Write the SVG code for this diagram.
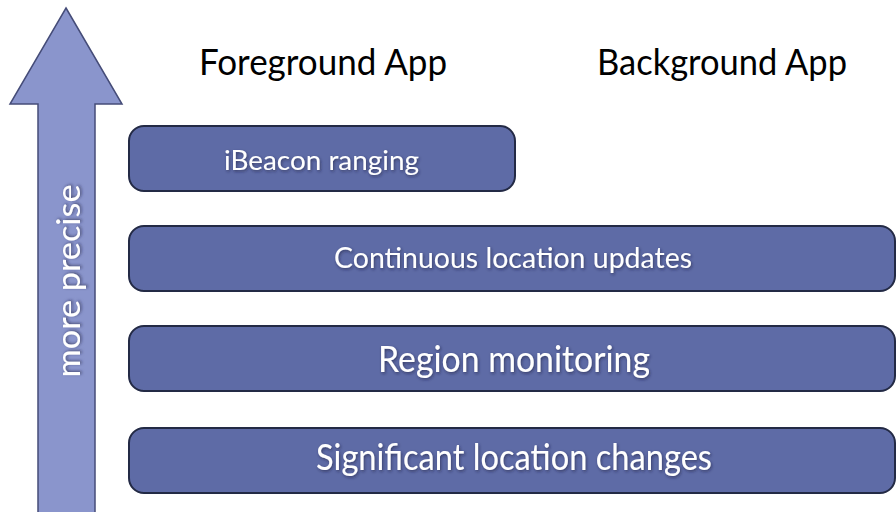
<svg xmlns="http://www.w3.org/2000/svg" width="896" height="512" viewBox="0 0 896 512">
  <defs>
    <filter id="txtShadow" x="-10%" y="-40%" width="120%" height="180%">
      <feDropShadow dx="1" dy="1.5" stdDeviation="1.5" flood-color="#1a1f3a" flood-opacity="0.6"/>
    </filter>
    <style>
      .box { fill: #5E6BA6; stroke: #232a45; stroke-width: 2; }
      .label { fill: #ffffff; font-family: "Lato", "Open Sans", sans-serif; text-anchor: middle; filter: url(#txtShadow); }
      .head { fill: #000000; font-family: "Lato", "Open Sans", sans-serif; font-size: 36px; text-anchor: middle; }
      .arrow { fill: #8A95CC; stroke: #454c78; stroke-width: 1.5; }
    </style>
  </defs>

  <rect width="896" height="512" fill="#ffffff"/>

  <!-- precision axis arrow -->
  <g id="precision-arrow">
    <polygon class="arrow" points="66,8 122,104 95,104 95,514 38,514 38,104 10,104"/>
    <text class="label" x="0" y="0" font-size="33" textLength="193" lengthAdjust="spacingAndGlyphs" transform="translate(80,281) rotate(-90)">more precise</text>
  </g>

  <!-- column headers -->
  <g id="header-foreground">
    <text class="head" x="323" y="75" textLength="248" lengthAdjust="spacingAndGlyphs">Foreground App</text>
  </g>
  <g id="header-background">
    <text class="head" x="722" y="75" textLength="250" lengthAdjust="spacingAndGlyphs">Background App</text>
  </g>

  <!-- location services -->
  <g id="ibeacon-ranging">
    <rect class="box" x="129" y="126" width="386" height="65" rx="15"/>
    <text class="label" x="321.5" y="170" font-size="27" textLength="195" lengthAdjust="spacingAndGlyphs">iBeacon ranging</text>
  </g>
  <g id="continuous-updates">
    <rect class="box" x="129" y="226" width="766" height="65" rx="15"/>
    <text class="label" x="513" y="268" font-size="28" textLength="358" lengthAdjust="spacingAndGlyphs">Continuous location updates</text>
  </g>
  <g id="region-monitoring">
    <rect class="box" x="129" y="326" width="766" height="65" rx="15"/>
    <text class="label" x="514" y="372" font-size="37" textLength="272" lengthAdjust="spacingAndGlyphs">Region monitoring</text>
  </g>
  <g id="significant-changes">
    <rect class="box" x="129" y="428" width="766" height="65" rx="15"/>
    <text class="label" x="514" y="470" font-size="37" textLength="396" lengthAdjust="spacingAndGlyphs">Significant location changes</text>
  </g>
</svg>
